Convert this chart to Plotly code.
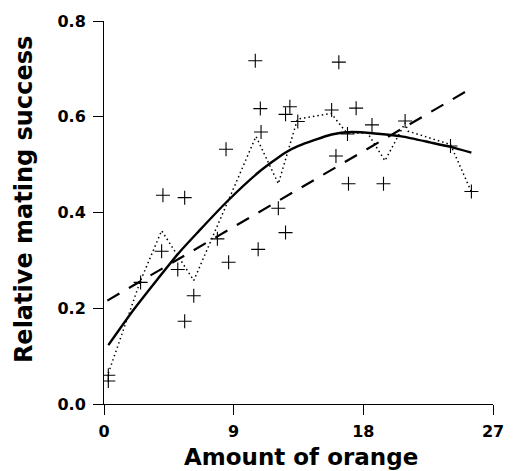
import plotly.graph_objects as go

# Observed data points (+ markers)
obs_x = [0.3, 0.3, 2.54, 4.0, 4.09, 5.12, 5.6, 5.6, 6.23, 7.87, 8.47, 8.65,
         10.5, 10.7, 10.85, 10.9, 12.1, 12.6, 12.6, 12.9, 13.45, 15.8, 16.1,
         16.3, 16.9, 16.97, 17.5, 18.6, 19.4, 20.9, 24.05, 25.5]
obs_y = [0.048, 0.060, 0.254, 0.319, 0.436, 0.281, 0.431, 0.173, 0.226, 0.345,
         0.532, 0.296, 0.717, 0.323, 0.617, 0.568, 0.409, 0.358, 0.605, 0.621,
         0.590, 0.614, 0.518, 0.714, 0.564, 0.460, 0.618, 0.583, 0.460, 0.591,
         0.539, 0.444]

# Linear fit (dashed), read at its ends
lin_x = [0.23, 25.3]
lin_y = [0.216, 0.656]

# Smooth curve (solid)
curve_x = [0.3, 2.08, 5.12, 6.58, 8.54, 10.73, 12.58, 13.5, 15.8, 17.2, 18.8,
           20.65, 22.7, 24.05, 25.5]
curve_y = [0.123, 0.198, 0.313, 0.361, 0.423, 0.484, 0.525, 0.539, 0.563,
           0.568, 0.565, 0.559, 0.546, 0.537, 0.525]

# Running-mean line (dotted), vertices
dot_x = [0.3, 2.5, 4.0, 6.23, 10.55, 12.1, 13.43, 15.77, 16.85, 18.3, 19.5,
         20.9, 21.1, 24.05, 25.5]
dot_y = [0.064, 0.255, 0.362, 0.258, 0.559, 0.460, 0.595, 0.607, 0.566, 0.566,
         0.508, 0.587, 0.570, 0.542, 0.443]

x_ticks = [0, 9, 18, 27]
y_ticks = [0.0, 0.2, 0.4, 0.6, 0.8]
y_tick_text = ["0.0", "0.2", "0.4", "0.6", "0.8"]

FONT = "DejaVu Sans"

fig = go.Figure()
fig.add_trace(go.Scatter(x=dot_x, y=dot_y, mode="lines",
                         line=dict(color="black", width=1.5, dash="1.5px,3px"),
                         hoverinfo="skip", showlegend=False))
fig.add_trace(go.Scatter(x=lin_x, y=lin_y, mode="lines",
                         line=dict(color="black", width=2.2, dash="14px,11px"),
                         showlegend=False))
fig.add_trace(go.Scatter(x=curve_x, y=curve_y, mode="lines",
                         line=dict(color="black", width=2.4, shape="spline", smoothing=0.6),
                         showlegend=False))
fig.add_trace(go.Scatter(x=obs_x, y=obs_y, mode="markers",
                         marker=dict(symbol="cross-thin", size=10,
                                     line=dict(color="black", width=1.1)),
                         showlegend=False))

fig.update_layout(
    width=516, height=471,
    margin=dict(l=104, r=20, t=16, b=67),
    paper_bgcolor="white", plot_bgcolor="white",
    font=dict(family=FONT, color="black"),
    xaxis=dict(range=[0, 27], tickvals=x_ticks, ticks="outside", ticklen=10,
               tickwidth=1, tickcolor="black", showline=True, linecolor="black",
               linewidth=1, showgrid=False, zeroline=False,
               tickfont=dict(family=FONT, size=16, weight="bold"),
               ticklabelstandoff=3),
    yaxis=dict(range=[0, 0.8], tickvals=y_ticks, ticktext=y_tick_text,
               ticks="outside", ticklen=10, tickwidth=1, tickcolor="black",
               showline=True, linecolor="black", linewidth=1, showgrid=False,
               zeroline=False,
               tickfont=dict(family=FONT, size=16, weight="bold"),
               ticklabelstandoff=4),
    annotations=[
        dict(text="Amount of orange", xref="paper", yref="paper",
             x=0.506, y=-0.139, xanchor="center", yanchor="middle",
             showarrow=False, font=dict(family=FONT, size=23, weight="bold")),
        dict(text="Relative mating success", xref="paper", yref="paper",
             x=-0.204, y=0.534, xanchor="center", yanchor="middle",
             textangle=-90, showarrow=False,
             font=dict(family=FONT, size=24, weight="bold")),
    ],
)

fig.write_html("out.html",
               config={"displayModeBar": False},
               post_script="document.body.style.margin='0px';document.body.style.overflow='hidden';")
